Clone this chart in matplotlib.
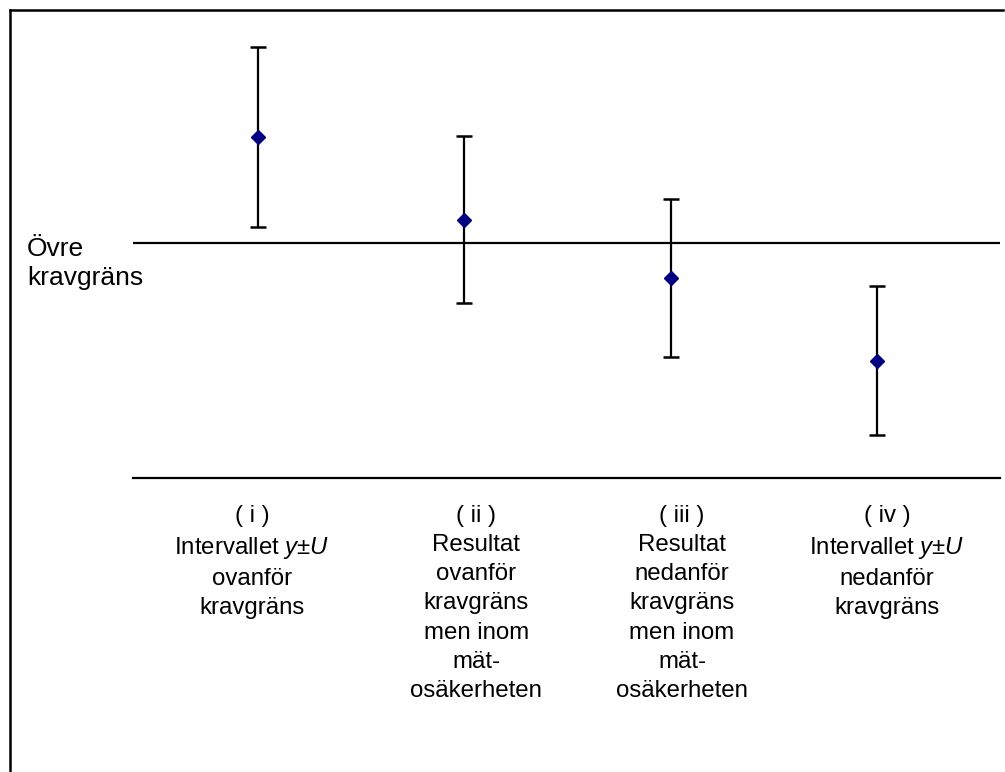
import matplotlib
matplotlib.use("Agg")
import matplotlib.pyplot as plt
from matplotlib.lines import Line2D

# ==============================
# Data
# ==============================

positions = [1, 2, 3, 4]
values = [14.5, 11.0, 8.5, 5.0]
errors = [3.83, 3.55, 3.36, 3.15]
limit = 10.0

labels = [
    "( i )\nIntervallet $\\it{y}$±$\\it{U}$\novanför\nkravgräns",
    "( ii )\nResultat\novanför\nkravgräns\nmen inom\nmät-\nosäkerheten",
    "( iii )\nResultat\nnedanför\nkravgräns\nmen inom\nmät-\nosäkerheten",
    "( iv )\nIntervallet $\\it{y}$±$\\it{U}$\nnedanför\nkravgräns",
]
label_x = [0.971, 2.057, 3.055, 4.049]
limit_label = "Övre\nkravgräns"

# ==============================
# Figure
# ==============================

plt.rcParams["font.family"] = ["Liberation Sans", "DejaVu Sans"]
plt.rcParams["mathtext.fontset"] = "custom"
plt.rcParams["mathtext.it"] = "Liberation Sans:italic"
plt.rcParams["mathtext.rm"] = "Liberation Sans"

fig = plt.figure(figsize=(10.05, 7.72), dpi=100)
ax = fig.add_axes([133 / 1005, (772 - 478) / 772, 867 / 1005, 468 / 772])

ax.errorbar(positions, values, yerr=errors, fmt="D", color="#000080",
            markersize=7.5, ecolor="black", elinewidth=1.6, capsize=6,
            capthick=1.8, zorder=3)

ax.axhline(limit, color="black", linewidth=1.6)

ax.set_xlim(0.394, 4.596)
ax.set_ylim(0, 468 / 23.5)

for side in ["top", "right", "left"]:
    ax.spines[side].set_visible(False)
ax.spines["bottom"].set_linewidth(1.6)
ax.set_xticks([])
ax.set_yticks([])

for x, lab in zip(label_x, labels):
    ax.text(x, -1.13, lab, ha="center", va="top", fontsize=17.3,
            linespacing=1.43, clip_on=False)

fig.text(27 / 1005, 1 - 237 / 772, limit_label, ha="left", va="top",
         fontsize=19, linespacing=1.27)

# frame around the chart (only top and left visible)
fig.add_artist(Line2D([10 / 1005, 10 / 1005], [0, 1 - 10 / 772],
                      transform=fig.transFigure, color="black", linewidth=1.8))
fig.add_artist(Line2D([10 / 1005, 1003 / 1005], [1 - 10 / 772, 1 - 10 / 772],
                      transform=fig.transFigure, color="black", linewidth=1.8))

fig.savefig("out.png", dpi=100)
plt.close()
